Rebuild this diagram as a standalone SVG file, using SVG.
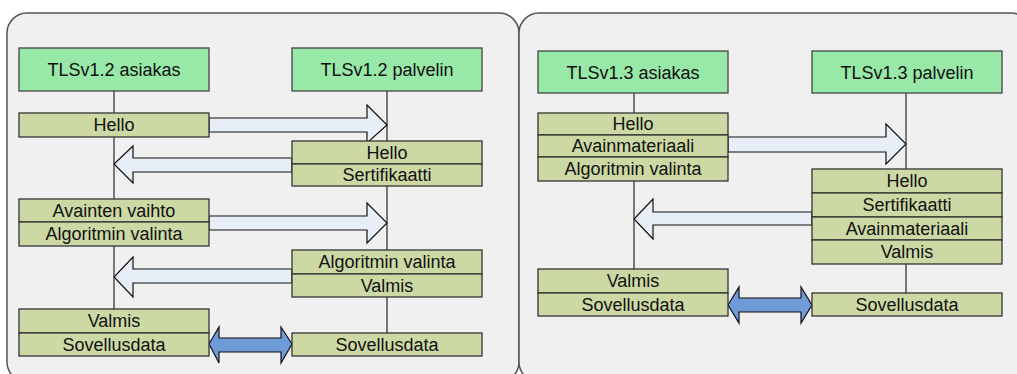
<svg xmlns="http://www.w3.org/2000/svg" width="1017" height="374" viewBox="0 0 1017 374">
<style>
.panel{fill:#f0f0f0;stroke:#555;stroke-width:1.5}
.hdr{fill:#98e8a8;stroke:#444;stroke-width:1.3}
.msg{fill:#cdd9a5;stroke:#333;stroke-width:1.3}
.life{stroke:#444;stroke-width:1.4;fill:none}
.arr{fill:#e8eef8;stroke:#111;stroke-width:1.2}
.dbl{fill:#6f9bd8;stroke:#111;stroke-width:1.2}
text{font-family:"Liberation Sans",Arial,sans-serif;font-size:18px;fill:#111;text-anchor:middle}
</style>
<g id="panel-tls12"><rect class="panel" x="7" y="13" width="512" height="369" rx="20"/></g>
<g id="panel-tls13"><rect class="panel" x="519" y="13" width="512" height="369" rx="20"/></g>
<g id="lifelines">
<line class="life" x1="114" y1="91" x2="114" y2="309"/>
<line class="life" x1="387" y1="91" x2="387" y2="333"/>
<line class="life" x1="634" y1="93" x2="634" y2="269"/>
<line class="life" x1="906" y1="93" x2="906" y2="293"/>
</g>
<g id="connectors">
<polygon class="arr" points="209,118 367,118 367,105 387,125 367,143 367,132 209,132"/>
<polygon class="arr" points="292,158 133,158 133,146 114,164 133,183 133,172 292,172"/>
<polygon class="arr" points="209,216 367,216 367,203 387,223 367,243 367,230 209,230"/>
<polygon class="arr" points="292,269 133,269 133,257 114,277 133,297 133,283 292,283"/>
<polygon class="dbl" points="209,344 219,327 219,338 281,338 281,327 292,344 281,363 281,352 219,352 219,363"/>
<polygon class="arr" points="728,137 886,137 886,124 906,144 886,164 886,152 728,152"/>
<polygon class="arr" points="812,212 653,212 653,199 634,219 653,239 653,225 812,225"/>
<polygon class="dbl" points="728,305 739,287 739,298 801,298 801,287 812,305 801,323 801,312 739,312 739,323"/>
</g>
<g id="tls12-client"><rect class="hdr" x="19" y="48" width="190" height="43"/><text x="114" y="76">TLSv1.2 asiakas</text></g>
<g id="tls12-server"><rect class="hdr" x="292" y="48" width="190" height="43"/><text x="387" y="76">TLSv1.2 palvelin</text></g>
<g id="m12-c1"><rect class="msg" x="19" y="113" width="190" height="24"/><text x="114" y="131">Hello</text></g>
<g id="m12-s1">
<rect class="msg" x="292" y="141" width="190" height="23"/><text x="387" y="158.5">Hello</text>
<rect class="msg" x="292" y="164" width="190" height="22"/><text x="387" y="181">Sertifikaatti</text>
</g>
<g id="m12-c2">
<rect class="msg" x="19" y="199" width="190" height="23"/><text x="114" y="216.5">Avainten vaihto</text>
<rect class="msg" x="19" y="222" width="190" height="24"/><text x="114" y="240">Algoritmin valinta</text>
</g>
<g id="m12-s2">
<rect class="msg" x="292" y="250" width="190" height="24"/><text x="387" y="268">Algoritmin valinta</text>
<rect class="msg" x="292" y="274" width="190" height="23"/><text x="387" y="291.5">Valmis</text>
</g>
<g id="m12-c3">
<rect class="msg" x="19" y="309" width="190" height="24"/><text x="114" y="327">Valmis</text>
<rect class="msg" x="19" y="333" width="190" height="23"/><text x="114" y="350.5">Sovellusdata</text>
</g>
<g id="m12-s3"><rect class="msg" x="292" y="333" width="190" height="23"/><text x="387" y="350.5">Sovellusdata</text></g>
<g id="tls13-client"><rect class="hdr" x="538" y="51" width="190" height="42"/><text x="633" y="78.5">TLSv1.3 asiakas</text></g>
<g id="tls13-server"><rect class="hdr" x="812" y="51" width="190" height="42"/><text x="907" y="78.5">TLSv1.3 palvelin</text></g>
<g id="m13-c1">
<rect class="msg" x="538" y="113" width="190" height="22"/><text x="633" y="130">Hello</text>
<rect class="msg" x="538" y="135" width="190" height="22"/><text x="633" y="152">Avainmateriaali</text>
<rect class="msg" x="538" y="157" width="190" height="24"/><text x="633" y="175">Algoritmin valinta</text>
</g>
<g id="m13-s1">
<rect class="msg" x="812" y="169" width="190" height="24"/><text x="907" y="187">Hello</text>
<rect class="msg" x="812" y="193" width="190" height="24"/><text x="907" y="211">Sertifikaatti</text>
<rect class="msg" x="812" y="217" width="190" height="23"/><text x="907" y="234.5">Avainmateriaali</text>
<rect class="msg" x="812" y="240" width="190" height="24"/><text x="907" y="258">Valmis</text>
</g>
<g id="m13-c2">
<rect class="msg" x="538" y="269" width="190" height="24"/><text x="633" y="287">Valmis</text>
<rect class="msg" x="538" y="293" width="190" height="23"/><text x="633" y="310.5">Sovellusdata</text>
</g>
<g id="m13-s2"><rect class="msg" x="812" y="293" width="190" height="23"/><text x="907" y="310.5">Sovellusdata</text></g>
</svg>
